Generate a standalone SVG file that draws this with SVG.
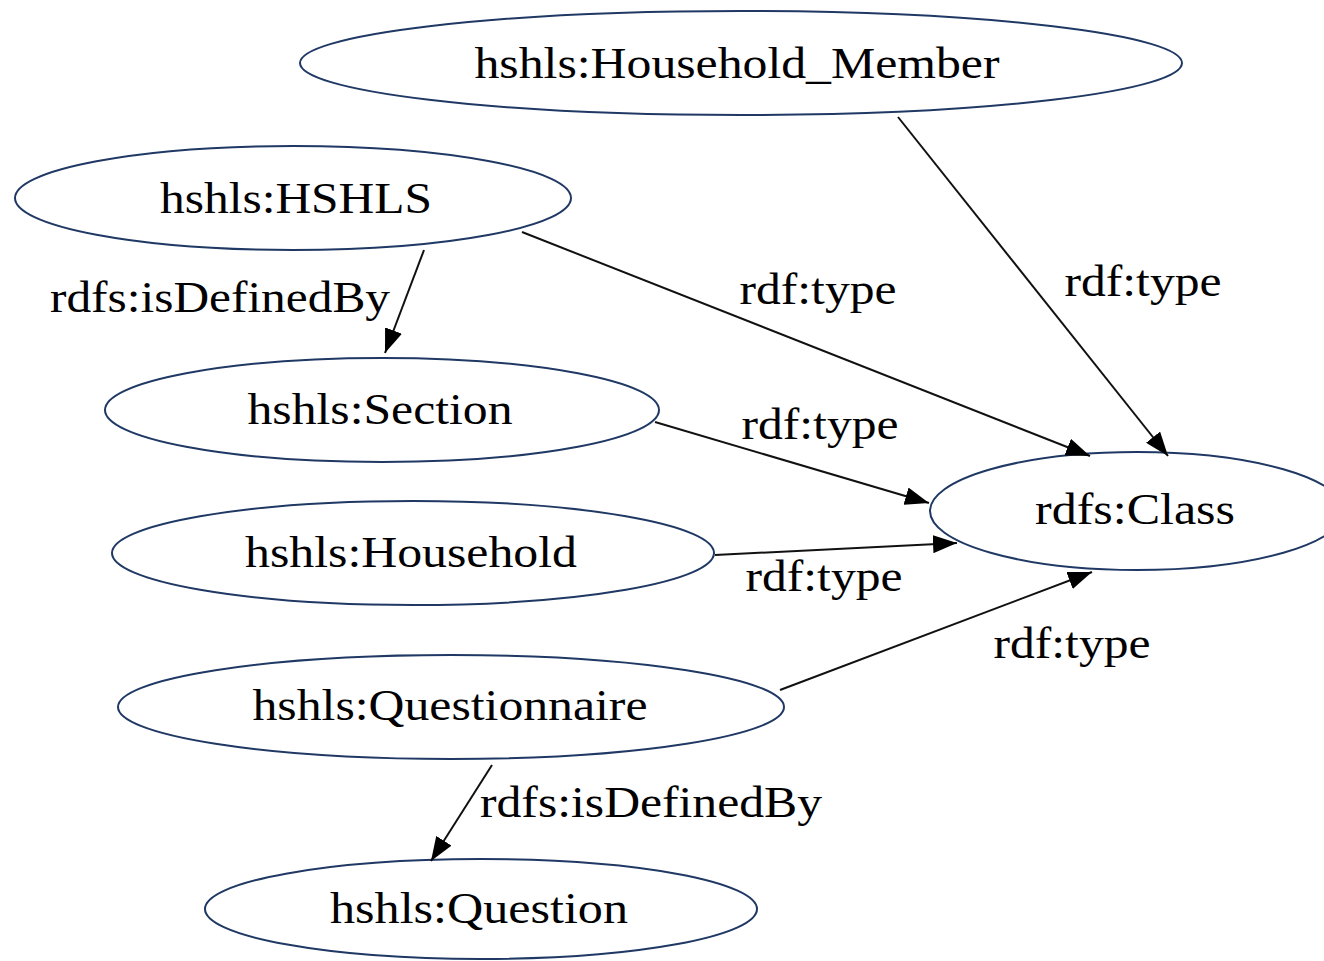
<svg xmlns="http://www.w3.org/2000/svg" width="1324" height="961" viewBox="0 0 1324 961">
<style>
.n ellipse{fill:#fff;stroke:#1f3864;stroke-width:2}
text{font-family:"Liberation Serif","Times New Roman",serif;font-size:44px;fill:#000}
.c line{stroke:#111;stroke-width:2}
</style>
<defs>
<marker id="ah" markerUnits="userSpaceOnUse" markerWidth="24" markerHeight="18" refX="24" refY="9" orient="auto">
<path d="M0,0 L24,9 L0,18 Z" fill="#000"/>
</marker>
</defs>
<rect width="1324" height="961" fill="#fff"/>
<g id="n-class" class="n"><ellipse cx="1137" cy="511" rx="207" ry="59"/><text x="1135" y="524" text-anchor="middle" textLength="200" lengthAdjust="spacingAndGlyphs">rdfs:Class</text></g>
<g id="n-member" class="n"><ellipse cx="741" cy="63" rx="441" ry="52"/><text x="737" y="78" text-anchor="middle" textLength="525" lengthAdjust="spacingAndGlyphs">hshls:Household_Member</text></g>
<g id="n-hshls" class="n"><ellipse cx="293" cy="198" rx="278" ry="52"/><text x="296" y="213" text-anchor="middle" textLength="272" lengthAdjust="spacingAndGlyphs">hshls:HSHLS</text></g>
<g id="n-section" class="n"><ellipse cx="382" cy="410" rx="277" ry="52"/><text x="380" y="424" text-anchor="middle" textLength="265" lengthAdjust="spacingAndGlyphs">hshls:Section</text></g>
<g id="n-household" class="n"><ellipse cx="413" cy="553" rx="301" ry="52"/><text x="411" y="567" text-anchor="middle" textLength="332" lengthAdjust="spacingAndGlyphs">hshls:Household</text></g>
<g id="n-questionnaire" class="n"><ellipse cx="451" cy="707" rx="333" ry="52"/><text x="450" y="720" text-anchor="middle" textLength="395" lengthAdjust="spacingAndGlyphs">hshls:Questionnaire</text></g>
<g id="n-question" class="n"><ellipse cx="481" cy="909" rx="276" ry="50"/><text x="479" y="923" text-anchor="middle" textLength="298" lengthAdjust="spacingAndGlyphs">hshls:Question</text></g>
<g id="connectors" class="c">
<line x1="898" y1="117" x2="1168" y2="456" marker-end="url(#ah)"/>
<line x1="522" y1="232" x2="1090" y2="456" marker-end="url(#ah)"/>
<line x1="424" y1="250" x2="385" y2="353" marker-end="url(#ah)"/>
<line x1="655" y1="422" x2="929" y2="503" marker-end="url(#ah)"/>
<line x1="715" y1="555" x2="957" y2="543" marker-end="url(#ah)"/>
<line x1="780" y1="690" x2="1092" y2="572" marker-end="url(#ah)"/>
<line x1="492" y1="765" x2="431" y2="861" marker-end="url(#ah)"/>
<text x="818" y="304" text-anchor="middle" textLength="157" lengthAdjust="spacingAndGlyphs">rdf:type</text>
<text x="1143" y="296" text-anchor="middle" textLength="157" lengthAdjust="spacingAndGlyphs">rdf:type</text>
<text x="220" y="312" text-anchor="middle" textLength="340" lengthAdjust="spacingAndGlyphs">rdfs:isDefinedBy</text>
<text x="820" y="439" text-anchor="middle" textLength="157" lengthAdjust="spacingAndGlyphs">rdf:type</text>
<text x="824" y="591" text-anchor="middle" textLength="157" lengthAdjust="spacingAndGlyphs">rdf:type</text>
<text x="1072" y="658" text-anchor="middle" textLength="157" lengthAdjust="spacingAndGlyphs">rdf:type</text>
<text x="651" y="817" text-anchor="middle" textLength="342" lengthAdjust="spacingAndGlyphs">rdfs:isDefinedBy</text>
</g>
</svg>
